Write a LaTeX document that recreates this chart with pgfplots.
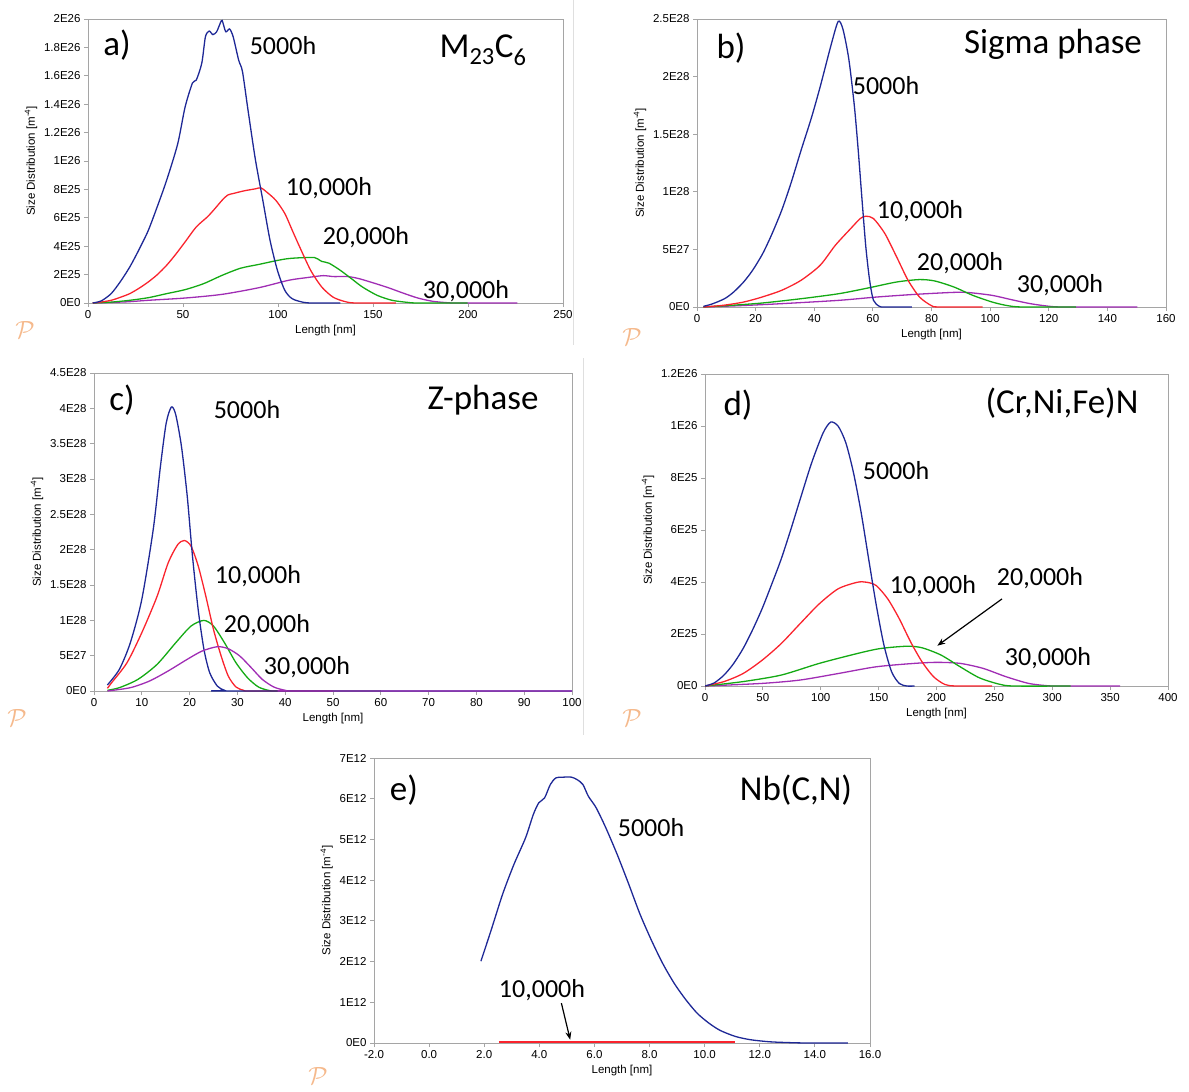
\documentclass[border=0pt]{standalone}
\usepackage{pgfplots}
\pgfplotsset{compat=1.18}
\usepackage{fontspec}
\setmainfont{Liberation Sans}
\newfontfamily\calib{Carlito}
\usetikzlibrary{arrows.meta}

\definecolor{cblue}{RGB}{30,40,150}
\definecolor{cred}{RGB}{250,35,45}
\definecolor{cgreen}{RGB}{20,170,20}
\definecolor{cpurple}{RGB}{160,45,180}
\definecolor{wm}{RGB}{245,185,140}
\definecolor{frame}{RGB}{165,165,165}

\pgfplotsset{
  panel/.style={
    scale only axis,
    anchor=south west,
    axis line style={draw=frame, line width=0.8pt},
    tick style={draw=frame, line width=0.8pt},
    tick align=outside,
    major tick length=4pt,
    xtick pos=left, ytick pos=left,
    ticklabel style={font=\fontsize{11.5}{13}\selectfont},
    label style={font=\fontsize{11.5}{13}\selectfont},
    scaled ticks=false,
    xlabel={Length [nm]},
    ylabel={Size Distribution [m\textsuperscript{-4}]},
    every axis plot/.append style={line width=1.3pt, no marks, smooth, tension=0.45},
  },
}
\tikzset{
  big/.style={font=\calib\fontsize{35}{38}\selectfont},
  mid/.style={font=\calib\fontsize{26}{28}\selectfont},
}

\begin{document}
\begin{tikzpicture}
\path[use as bounding box] (0pt,0pt) rectangle (1189pt,-1092pt);
\draw[gray!25, line width=0.8pt] (573pt,0pt) -- (573pt,-345pt);
\draw[gray!25, line width=0.8pt] (583pt,-358pt) -- (583pt,-735pt);

% ---------------- a) M23C6
\begin{axis}[panel, at={(88pt,-303pt)}, width=475pt, height=284pt,
  xmin=0, xmax=250, ymin=0, ymax=2e26,
  xtick={0,50,100,150,200,250}, xticklabels={0,50,100,150,200,250},
  ytick={0,2e25,4e25,6e25,8e25,1e26,1.2e26,1.4e26,1.6e26,1.8e26,2e26},
  yticklabels={0E0,2E25,4E25,6E25,8E25,1E26,1.2E26,1.4E26,1.6E26,1.8E26,2E26}]
\addplot[cpurple] coordinates {(2.5,0) (20,0.08e25) (31.7,0.19e25) (51.1,0.35e25) (70.6,0.61e25) (90,1.08e25) (105.6,1.6e25) (115.3,1.79e25) (124,1.93e25) (128.9,1.86e25) (136.7,1.86e25) (142.5,1.72e25) (150.3,1.41e25) (158,1.08e25) (165.8,0.7e25) (173.6,0.35e25) (181.4,0.12e25) (189.2,0.02e25) (195,0) (226,0)};
\addplot[cgreen] coordinates {(2.5,0) (12,0.06e25) (22,0.19e25) (32,0.38e25) (41.4,0.66e25) (51.1,0.94e25) (60.8,1.36e25) (70.6,1.95e25) (80.3,2.45e25) (90,2.72e25) (99.7,3.0e25) (105,3.12e25) (109.4,3.17e25) (115,3.2e25) (119.2,3.2e25) (121,3.1e25) (123,2.93e25) (126.9,2.8e25) (132.8,2.3e25) (138.6,1.72e25) (144.4,1.13e25) (152.2,0.54e25) (160,0.19e25) (167.8,0.05e25) (173.6,0) (199.8,0)};
\addplot[cred] coordinates {(2.5,0) (7,0.07e25) (12.2,0.19e25) (17,0.4e25) (22,0.66e25) (27,1.05e25) (31.7,1.48e25) (36.5,2.0e25) (41.4,2.66e25) (46,3.4e25) (51.1,4.3e25) (57,5.36e25) (62.8,6.06e25) (66.5,6.6e25) (70.6,7.24e25) (73.5,7.6e25) (76.4,7.71e25) (82.2,7.9e25) (88.1,8.04e25) (91,8.11e25) (93.9,7.83e25) (98.8,7.24e25) (103.6,6.3e25) (107.5,5.12e25) (111.4,3.95e25) (117.2,2.3e25) (123,1.13e25) (128.9,0.42e25) (134.7,0.12e25) (140.6,0) (162,0)};
\addplot[cblue] coordinates {(2.5,0) (7,0.15e25) (12.2,0.66e25) (17,1.5e25) (22,2.54e25) (27,3.8e25) (31.7,5.1e25) (36.5,6.8e25) (41.4,8.65e25) (47.2,11.2e25) (51.1,13.8e25) (55,15.5e25) (57,15.7e25) (59.9,16.9e25) (61.8,18.75e25) (63.8,19.15e25) (65.7,18.9e25) (67.7,19.1e25) (69.6,19.7e25) (70.6,19.9e25) (72.5,19.1e25) (74.5,19.3e25) (76.4,18.75e25) (79.3,17.1e25) (81.3,16.3e25) (84.2,13.6e25) (88.1,10.1e25) (92,7.24e25) (95.8,4.42e25) (99.7,2.3e25) (103.6,0.89e25) (107.5,0.3e25) (113.3,0.05e25) (118,0) (132.8,0)};
\end{axis}

% ---------------- b) Sigma
\begin{axis}[panel, at={(697pt,-307pt)}, width=469pt, height=288pt,
  xmin=0, xmax=160, ymin=0, ymax=2.5e28,
  xtick={0,20,40,60,80,100,120,140,160}, xticklabels={0,20,40,60,80,100,120,140,160},
  ytick={0,5e27,1e28,1.5e28,2e28,2.5e28},
  yticklabels={0E0,5E27,1E28,1.5E28,2E28,2.5E28}]
\addplot[cpurple] coordinates {(2.2,0) (15,0.12e27) (28.9,0.29e27) (48.5,0.58e27) (61.5,0.87e27) (74.6,1.1e27) (87.6,1.27e27) (92.8,1.25e27) (100.7,1.01e27) (107.2,0.64e27) (113.7,0.29e27) (120.2,0.06e27) (125.4,0) (150.2,0)};
\addplot[cgreen] coordinates {(2.2,0) (12,0.15e27) (22.4,0.35e27) (35.5,0.72e27) (48.5,1.16e27) (58.9,1.68e27) (68.1,2.17e27) (75.9,2.38e27) (81.1,2.26e27) (87.6,1.74e27) (94.1,1.01e27) (100.7,0.43e27) (105.9,0.12e27) (111.1,0) (129.3,0)};
\addplot[cred] coordinates {(2.2,0) (9,0.15e27) (15.9,0.43e27) (22,0.85e27) (28.9,1.45e27) (35.5,2.32e27) (42,3.62e27) (47.2,5.36e27) (52.4,6.8e27) (55.7,7.68e27) (57.6,7.88e27) (60.2,7.68e27) (64.1,6.37e27) (68.1,4.35e27) (72,2.32e27) (75.9,0.87e27) (79.8,0.14e27) (82.4,0) (97.4,0)};
\addplot[cblue] coordinates {(2.2,0.06e27) (5,0.25e27) (9.4,0.72e27) (12.5,1.3e27) (15.9,2.17e27) (19,3.2e27) (22.4,4.63e27) (25.5,6.3e27) (28.9,8.4e27) (32,10.7e27) (35.5,13.6e27) (39,16.4e27) (42,19.1e27) (45.9,22.9e27) (48.2,24.8e27) (49.8,24.1e27) (51.8,21.5e27) (53.7,17.4e27) (55,13.6e27) (56.3,9.3e27) (57.6,5.2e27) (58.9,2.3e27) (60.2,0.58e27) (62.2,0.06e27) (64.1,0) (73.3,0)};
\end{axis}

% ---------------- c) Z-phase
\begin{axis}[panel, at={(94pt,-691pt)}, width=478pt, height=318pt,
  xmin=0, xmax=100, ymin=0, ymax=4.5e28,
  xtick={0,10,20,30,40,50,60,70,80,90,100}, xticklabels={0,10,20,30,40,50,60,70,80,90,100},
  ytick={0,5e27,1e28,1.5e28,2e28,2.5e28,3e28,3.5e28,4e28,4.5e28},
  yticklabels={0E0,5E27,1E28,1.5E28,2E28,2.5E28,3E28,3.5E28,4E28,4.5E28}]
\addplot[cgreen] coordinates {(2.8,0.1e27) (5.3,0.47e27) (9.2,1.65e27) (13.2,3.77e27) (17.1,6.83e27) (20.3,9.19e27) (23,9.99e27) (25,9.19e27) (27.3,6.83e27) (29.7,4.0e27) (32.1,1.89e27) (34.4,0.57e27) (36.8,0.05e27) (39.2,0) (60,0)};
\addplot[cred] coordinates {(2.8,0.38e27) (3.7,1.18e27) (6.9,4.0e27) (10,8.25e27) (13.2,13.4e27) (15.5,18.1e27) (17.5,20.7e27) (18.9,21.3e27) (20.3,20.5e27) (21.8,17.7e27) (23.4,13.4e27) (25,8.7e27) (26.6,4.95e27) (28.1,2.1e27) (29.7,0.57e27) (31.3,0.1e27) (32.9,0) (50,0)};
\addplot[cblue] coordinates {(2.8,0.85e27) (5.3,3.06e27) (7.6,6.83e27) (10,12.96e27) (12.4,22.9e27) (13.9,31.8e27) (15.1,37.9e27) (16.2,40.2e27) (17.1,39.1e27) (18.3,34.6e27) (19.5,27.6e27) (20.6,19.1e27) (21.8,11.5e27) (23,5.9e27) (24.2,2.6e27) (25.8,0.7e27) (27.3,0.1e27) (28.9,0) (100,0)};
\addplot[cpurple] coordinates {(2.8,0) (7.6,0.47e27) (11.6,1.41e27) (15.5,2.83e27) (19.5,4.48e27) (22.6,5.65e27) (25.8,6.27e27) (28.1,5.98e27) (30.5,4.95e27) (32.9,3.3e27) (35.2,1.65e27) (37.6,0.57e27) (40,0.1e27) (42.3,0) (100,0)};
\end{axis}

% ---------------- d) (Cr,Ni,Fe)N
\begin{axis}[panel, at={(705pt,-686pt)}, width=463pt, height=312pt,
  xmin=0, xmax=400, ymin=0, ymax=1.2e26,
  xtick={0,50,100,150,200,250,300,350,400}, xticklabels={0,50,100,150,200,250,300,350,400},
  ytick={0,2e25,4e25,6e25,8e25,1e26,1.2e26},
  yticklabels={0E0,2E25,4E25,6E25,8E25,1E26,1.2E26}]
\addplot[cpurple] coordinates {(0,0) (49.3,0.1e25) (82.2,0.23e25) (115.1,0.48e25) (148,0.74e25) (180.9,0.87e25) (200.7,0.91e25) (220.4,0.87e25) (240.1,0.68e25) (259.9,0.36e25) (279.6,0.1e25) (296,0.01e25) (305.9,0) (358.6,0)};
\addplot[cgreen] coordinates {(0,0) (32.9,0.17e25) (65.8,0.42e25) (98.7,0.87e25) (131.6,1.25e25) (151.3,1.44e25) (174.3,1.53e25) (187.5,1.47e25) (203.9,1.19e25) (220.4,0.74e25) (236.8,0.32e25) (253.3,0.08e25) (266.4,0) (315.8,0)};
\addplot[cred] coordinates {(0,0) (16.4,0.17e25) (32.9,0.48e25) (49.3,0.99e25) (65.8,1.63e25) (82.2,2.4e25) (98.7,3.16e25) (115.1,3.74e25) (131.6,3.99e25) (139.8,3.99e25) (148,3.86e25) (157.9,3.35e25) (167.8,2.59e25) (177.6,1.7e25) (187.5,0.93e25) (197.4,0.36e25) (207.2,0.06e25) (217.1,0) (248,0)};
\addplot[cblue] coordinates {(0,0) (8,0.12e25) (16.4,0.42e25) (24.5,0.85e25) (32.9,1.44e25) (41,2.15e25) (49.3,2.97e25) (57.5,3.9e25) (65.8,4.88e25) (74,6.0e25) (82.2,7.18e25) (92.1,8.58e25) (102,9.73e25) (108.6,10.15e25) (115.1,9.99e25) (121.7,9.35e25) (128.3,8.2e25) (134.9,6.67e25) (141.4,4.88e25) (148,3.1e25) (154.6,1.57e25) (161.2,0.55e25) (167.8,0.1e25) (174.3,0) (181,0)};
\draw[black, line width=1.2pt, -{Stealth[length=8pt,width=6pt]}] (axis cs:256.6,3.35e25) -- (axis cs:200.7,1.55e25);
\end{axis}

% ---------------- e) Nb(C,N)
\begin{axis}[panel, at={(374pt,-1043pt)}, width=496pt, height=285pt,
  xmin=-2, xmax=16, ymin=0, ymax=7e12,
  xtick={-2,0,2,4,6,8,10,12,14,16}, xticklabels={-2.0,0.0,2.0,4.0,6.0,8.0,10.0,12.0,14.0,16.0},
  ytick={0,1e12,2e12,3e12,4e12,5e12,6e12,7e12},
  yticklabels={0E0,1E12,2E12,3E12,4E12,5E12,6E12,7E12}]
\addplot[cblue] coordinates {(1.88,2.01e12) (2.25,2.77e12) (2.67,3.66e12) (3.08,4.39e12) (3.5,5.04e12) (3.78,5.61e12) (3.98,5.9e12) (4.19,6.02e12) (4.4,6.35e12) (4.6,6.51e12) (4.88,6.53e12) (5.16,6.53e12) (5.37,6.47e12) (5.58,6.35e12) (5.78,6.06e12) (6.06,5.78e12) (6.41,5.29e12) (6.82,4.64e12) (7.24,3.91e12) (7.65,3.17e12) (8.07,2.52e12) (8.48,1.95e12) (8.9,1.46e12) (9.32,1.06e12) (9.73,0.73e12) (10.15,0.49e12) (10.56,0.31e12) (11.12,0.16e12) (11.67,0.08e12) (12.36,0.03e12) (13.06,0.01e12) (13.75,0) (15.2,0)};
\addplot[cred, line width=2pt] coordinates {(2.53,0.02e12) (11.09,0.02e12)};
\draw[black, line width=1.2pt, -{Stealth[length=8pt,width=6pt]}] (axis cs:4.8,0.98e12) -- (axis cs:5.12,0.08e12);
\end{axis}

% ---------------- labels
\node[big] at (117pt,-45pt) {a)};
\node[big] at (483pt,-50pt) {M\textsubscript{23}C\textsubscript{6}};
\node[mid] at (283pt,-46pt) {5000h};
\node[mid] at (329pt,-188pt) {10,000h};
\node[mid] at (366pt,-237pt) {20,000h};
\node[mid] at (466pt,-291pt) {30,000h};

\node[big] at (731pt,-48pt) {b)};
\node[big] at (1053pt,-44pt) {Sigma phase};
\node[mid] at (886pt,-86pt) {5000h};
\node[mid] at (920pt,-211pt) {10,000h};
\node[mid] at (960pt,-263pt) {20,000h};
\node[mid] at (1060pt,-285pt) {30,000h};

\node[big] at (122pt,-400pt) {c)};
\node[big] at (483pt,-400pt) {Z-phase};
\node[mid] at (247pt,-410pt) {5000h};
\node[mid] at (258pt,-576pt) {10,000h};
\node[mid] at (267pt,-625pt) {20,000h};
\node[mid] at (307pt,-667pt) {30,000h};

\node[big] at (738pt,-405pt) {d)};
\node[big] at (1062pt,-403pt) {(Cr,Ni,Fe)N};
\node[mid] at (896pt,-471pt) {5000h};
\node[mid] at (933pt,-586pt) {10,000h};
\node[mid] at (1040pt,-578pt) {20,000h};
\node[mid] at (1048pt,-658pt) {30,000h};

\node[big] at (404pt,-790pt) {e)};
\node[big] at (796pt,-790pt) {Nb(C,N)};
\node[mid] at (651pt,-828pt) {5000h};
\node[mid] at (542pt,-990pt) {10,000h};

% watermarks
\foreach \px/\py in {25/330, 632/337, 17/718, 632/718, 318/1076}{
  \node[text=wm, font=\fontsize{24}{26}\selectfont] at (\px pt,-\py pt) {$\mathcal{P}$};
}
\end{tikzpicture}
\end{document}
